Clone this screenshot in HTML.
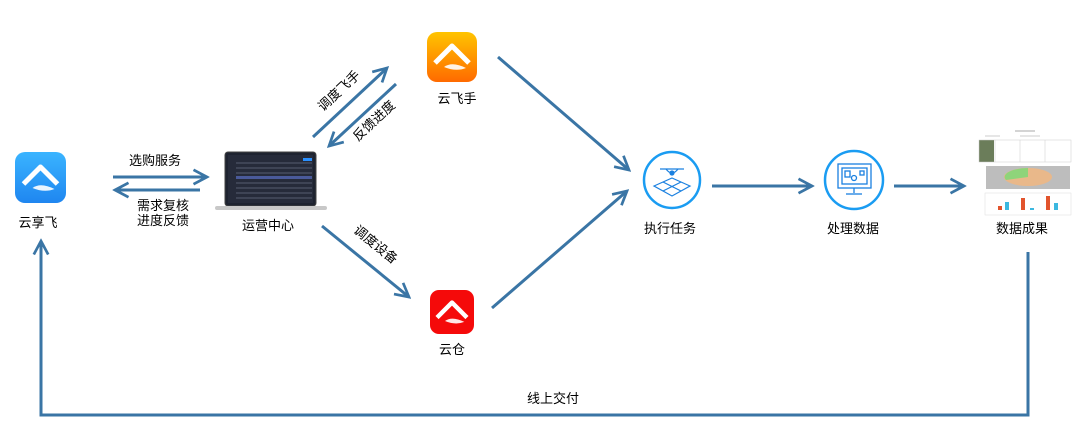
<!DOCTYPE html>
<html><head><meta charset="utf-8"><style>
html,body{margin:0;padding:0;background:#fff;}
svg{display:block;}
text{font-family:"Liberation Sans","Noto Sans CJK SC",sans-serif;font-size:13px;fill:#000;}
</style></head><body>
<svg width="1080" height="441" viewBox="0 0 1080 441" xmlns="http://www.w3.org/2000/svg">
<defs>
<linearGradient id="gb" x1="0" y1="0" x2="0" y2="1"><stop offset="0" stop-color="#3ab4ff"/><stop offset="1" stop-color="#1f86f0"/></linearGradient>
<linearGradient id="go" x1="0" y1="0" x2="0" y2="1"><stop offset="0" stop-color="#ffc400"/><stop offset="1" stop-color="#ff6a00"/></linearGradient>
<marker id="ah" viewBox="0 0 10 10" refX="8.5" refY="5" markerWidth="6" markerHeight="6" orient="auto" markerUnits="strokeWidth">
<path d="M1,1 L8.5,5 L1,9" fill="none" stroke="#3a75a5" stroke-width="1.5"/></marker>
<g id="logo"><path d="M-17,4 L0,-13 L17,4" fill="none" stroke="#fff" stroke-width="5" stroke-linejoin="round"/><path d="M-8,8 Q0,2 14,9 Q4,13 -8,8Z" fill="#fff" opacity="0.9"/></g>
</defs>
<g stroke="#3a75a5" stroke-width="3" fill="none" marker-end="url(#ah)">
<line x1="113" y1="177" x2="207" y2="177"/>
<line x1="200" y1="190" x2="115" y2="190"/>
<line x1="313" y1="137" x2="387" y2="68"/>
<line x1="396" y1="84" x2="329" y2="146"/>
<line x1="322" y1="226" x2="409" y2="297"/>
<line x1="498" y1="57" x2="629" y2="170"/>
<line x1="492" y1="308" x2="627" y2="191"/>
<line x1="712" y1="186" x2="812" y2="186"/>
<line x1="894" y1="186" x2="964" y2="186"/>
<polyline points="1028,252 1028,415 41,415 41,241"/>
</g>
<rect x="15" y="152" width="51" height="51" rx="10" fill="url(#gb)"/>
<use href="#logo" x="40.5" y="180"/>
<rect x="427" y="32" width="50" height="50" rx="10" fill="url(#go)"/>
<use href="#logo" x="452" y="59"/>
<rect x="430" y="290" width="44" height="44" rx="9" fill="#f50a0a"/>
<g transform="translate(452,314) scale(0.88)"><use href="#logo"/></g>
<rect x="225" y="152" width="91" height="54" rx="3" fill="#1e2330" stroke="#444" stroke-width="1"/>
<rect x="228" y="155" width="85" height="48" fill="#262b3a"/>
<g stroke="#555c70" stroke-width="1">
<line x1="236" y1="163" x2="312" y2="163"/><line x1="236" y1="168" x2="312" y2="168"/><line x1="236" y1="173" x2="312" y2="173"/>
<line x1="236" y1="178" x2="312" y2="178"/><line x1="236" y1="183" x2="312" y2="183"/><line x1="236" y1="188" x2="312" y2="188"/>
<line x1="236" y1="193" x2="312" y2="193"/><line x1="236" y1="198" x2="312" y2="198"/></g>
<rect x="236" y="176" width="76" height="3" fill="#4a5a9a"/>
<rect x="303" y="158" width="9" height="3" fill="#2a90ff"/>
<rect x="215" y="206" width="112" height="4" rx="2" fill="#c8c8c8"/>
<circle cx="672" cy="180" r="28" fill="#fff" stroke="#1a9cf2" stroke-width="2.5"/>
<g stroke="#1a80e0" stroke-width="1.2" fill="none">
<line x1="660" y1="169" x2="684" y2="169"/><path d="M666,169 q6,8 12,0"/><circle cx="672" cy="173" r="2" fill="#1a80e0"/>
<path d="M672,178 L690,186 L672,196 L654,186 Z"/><line x1="663" y1="182" x2="681" y2="191"/><line x1="681" y1="182" x2="663" y2="191"/></g>
<circle cx="854" cy="180" r="29" fill="#fff" stroke="#1a9cf2" stroke-width="2.5"/>
<g stroke="#1a80e0" stroke-width="1.3" fill="none">
<rect x="838" y="164" width="33" height="24"/><rect x="842" y="168" width="25" height="16"/>
<line x1="854" y1="188" x2="854" y2="193"/><line x1="846" y1="194" x2="862" y2="194"/>
<rect x="845" y="171" width="5" height="6"/><circle cx="854" cy="178" r="2.5"/><rect x="860" y="171" width="4" height="4"/></g>
<g>
<rect x="978" y="128" width="94" height="88" fill="#fff"/>
<line x1="1015" y1="131" x2="1035" y2="131" stroke="#aaa" stroke-width="1"/>
<line x1="985" y1="136" x2="1000" y2="136" stroke="#ccc" stroke-width="1"/>
<line x1="1020" y1="136" x2="1040" y2="136" stroke="#ccc" stroke-width="1"/>
<rect x="979" y="140" width="15" height="22" fill="#6b7d5a"/>
<g stroke="#ccc" stroke-width="0.5"><rect x="979" y="140" width="92" height="22" fill="none"/><line x1="995" y1="140" x2="995" y2="162"/><line x1="1020" y1="140" x2="1020" y2="162"/><line x1="1045" y1="140" x2="1045" y2="162"/></g>
<rect x="986" y="166" width="84" height="23" fill="#bdbdbd"/>
<ellipse cx="1028" cy="177" rx="24" ry="9" fill="#e9b88a"/>
<path d="M1028,177 L1028,168 A24,9 0 0 0 1006,180 Z" fill="#8ed47a"/>
<rect x="985" y="193" width="86" height="22" fill="#fff" stroke="#ddd" stroke-width="0.5"/>
<rect x="998" y="206" width="4" height="4" fill="#e2542d"/><rect x="1005" y="202" width="4" height="8" fill="#3cb8e0"/>
<rect x="1021" y="198" width="4" height="12" fill="#e2542d"/><rect x="1030" y="208" width="4" height="2" fill="#3cb8e0"/>
<rect x="1046" y="196" width="4" height="14" fill="#e2542d"/><rect x="1054" y="203" width="4" height="7" fill="#3cb8e0"/>
</g>
<text x="38" y="227" text-anchor="middle">云享飞</text>
<text x="155" y="165" text-anchor="middle">选购服务</text>
<text x="163" y="210" text-anchor="middle">需求复核</text>
<text x="163" y="225" text-anchor="middle">进度反馈</text>
<text x="268" y="230" text-anchor="middle">运营中心</text>
<text x="457" y="103" text-anchor="middle">云飞手</text>
<text x="452" y="354" text-anchor="middle">云仓</text>
<text x="670" y="233" text-anchor="middle">执行任务</text>
<text x="853" y="233" text-anchor="middle">处理数据</text>
<text x="1022" y="233" text-anchor="middle">数据成果</text>
<text x="553" y="403" text-anchor="middle">线上交付</text>
<text transform="translate(342,94) rotate(-43)" text-anchor="middle">调度飞手</text>
<text transform="translate(377,124) rotate(-43)" text-anchor="middle">反馈进度</text>
<text transform="translate(373,248) rotate(39)" text-anchor="middle">调度设备</text>
</svg>
</body></html>
